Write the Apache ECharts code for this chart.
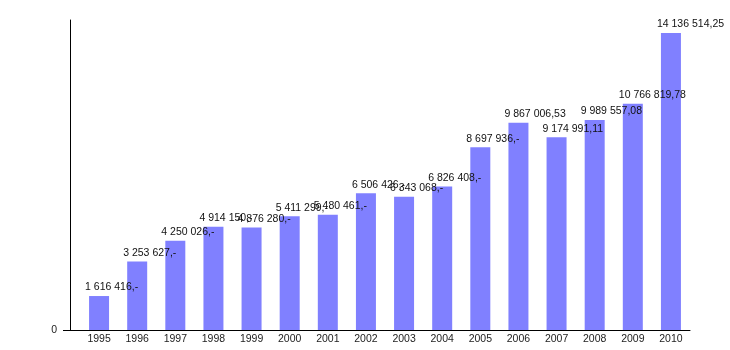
<!DOCTYPE html>
<html>
<head>
<meta charset="utf-8">
<script src="https://cdn.jsdelivr.net/npm/echarts@6/dist/echarts.min.js"></script>
<style>html,body{margin:0;padding:0;background:#fff}#c{width:730px;height:350px}</style>
</head>
<body>
<div id="c"></div>
<script>
var categories = ['1995','1996','1997','1998','1999','2000','2001','2002','2003','2004','2005','2006','2007','2008','2009','2010'];
var values = [1616416, 3253627, 4250026, 4914150, 4876280, 5411299, 5480461, 6506426, 6343068, 6826408, 8697936, 9867006.53, 9174991.11, 9989557.08, 10766819.78, 14136514.25];
var yTicks = [0];

function fmt(v) {
  var whole = Math.floor(v);
  var cents = Math.round((v - whole) * 100);
  var s = String(whole).replace(/\B(?=(\d{3})+(?!\d))/g, ' ');
  if (cents === 0) return s + ',-';
  return s + ',' + (cents < 10 ? '0' : '') + cents;
}

var chart = echarts.init(document.getElementById('c'), null, {renderer: 'canvas'});
chart.setOption({
  animation: false,
  textStyle: {fontFamily: 'Liberation Sans, Arial, sans-serif'},
  grid: {left: 80, right: 40, top: 20, bottom: 20},
  xAxis: {
    type: 'category',
    data: categories,
    axisLine: {show: true, lineStyle: {color: '#000', width: 1}},
    axisTick: {show: false},
    axisLabel: {color: '#222', fontSize: 10.5, margin: 4, fontFamily: 'Liberation Sans, Arial, sans-serif'}
  },
  yAxis: {
    type: 'value',
    min: 0,
    max: 14750000,
    offset: 10,
    axisLine: {show: true, lineStyle: {color: '#000', width: 1}},
    axisTick: {show: false},
    splitLine: {show: false},
    axisLabel: {customValues: yTicks, color: '#222', fontSize: 10.5, margin: 13, fontFamily: 'Liberation Sans, Arial, sans-serif'}
  },
  graphic: [{
    type: 'line',
    shape: {x1: 63, y1: 330.5, x2: 81, y2: 330.5},
    style: {stroke: '#000', lineWidth: 1},
    silent: true
  }],
  series: [{
    type: 'bar',
    data: values,
    barWidth: 20,
    itemStyle: {color: '#8080ff'},
    label: {
      show: true,
      position: 'top',
      distance: 3,
      align: 'left',
      offset: [-14, 0],
      color: '#111',
      fontSize: 10.5,
      fontFamily: 'Liberation Sans, Arial, sans-serif',
      formatter: function (p) { return fmt(p.value); }
    }
  }]
});
</script>
</body>
</html>
